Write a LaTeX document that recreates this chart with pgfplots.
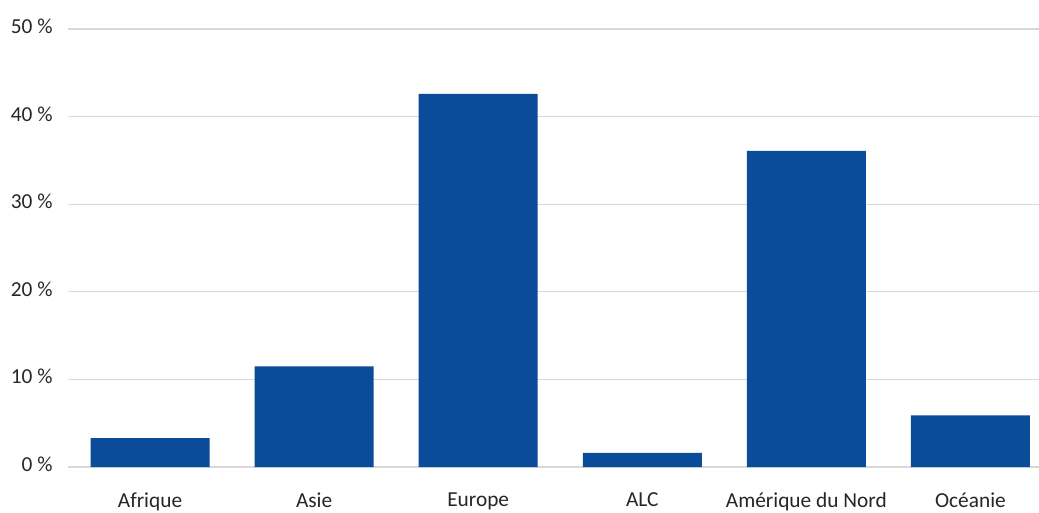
\documentclass[border=0pt]{standalone}
\usepackage{fontspec}
\setmainfont{Carlito}
\usepackage{pgfplots}
\pgfplotsset{compat=1.18}
\definecolor{barblue}{RGB}{10,76,154}
\definecolor{gridgray}{RGB}{217,217,217}
\begin{document}
\begin{tikzpicture}[x=0.75pt,y=0.75pt]
\begin{axis}[
  scale only axis,
  width=728.25pt, height=328.5pt,
  xmin=-0.5, xmax=5.418,
  ymin=0, ymax=50,
  axis line style={draw=none},
  ytick={0,10,20,30,40,50},
  yticklabel={\pgfmathprintnumber{\tick}~\%},
  /pgf/number format/assume math mode=true,
  ymajorgrids,
  grid style={gridgray, line width=0.9pt},
  major tick length=0pt,
  xtick=data,
  xticklabels={Afrique,Asie,Europe,ALC,Amérique du Nord,Océanie},
  ticklabel style={font=\fontsize{16}{18}\selectfont, text=black!85},
  yticklabel style={xshift=-8pt, yshift=2pt},
  xticklabel style={yshift=-16pt},
  ybar, bar width=89.25pt,
  clip=false,
]
\addplot[fill=barblue, draw=none] coordinates {
  (0,3.3) (1,11.5) (2,42.6) (3,1.6) (4,36.1) (5,5.9)
};
\coordinate (O) at (rel axis cs:0,0);
\end{axis}
\pgfresetboundingbox
\path (O) ++(-68,-45) rectangle ++(1039,512);
\end{tikzpicture}
\end{document}
